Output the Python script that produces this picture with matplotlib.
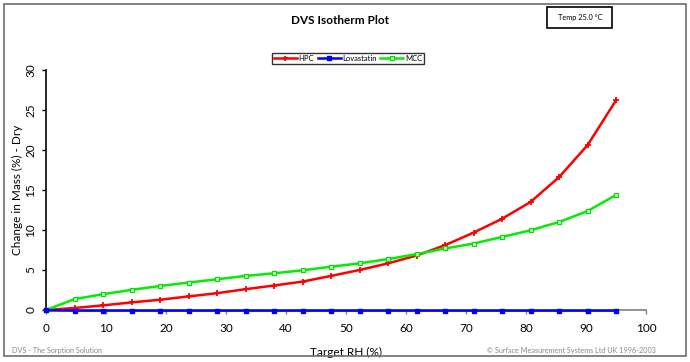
import matplotlib
matplotlib.use("Agg")
import matplotlib.pyplot as plt
from matplotlib.patches import Rectangle

plt.rcParams['font.family'] = ['Lato', 'DejaVu Sans']

rh = [0, 4.75, 9.5, 14.25, 19, 23.75, 28.5, 33.25, 38, 42.75, 47.5,
      52.25, 57, 61.75, 66.5, 71.25, 76, 80.75, 85.5, 90.25, 95]
hpc = [0, 0.25, 0.58, 0.95, 1.28, 1.7, 2.1, 2.6, 3.06, 3.55, 4.26,
       5.0, 5.83, 6.8, 8.1, 9.67, 11.4, 13.5, 16.6, 20.6, 26.2]
lova = [-0.05, -0.08, -0.08, -0.08, -0.08, -0.08, -0.08, -0.08, -0.08, -0.08, -0.08,
        -0.08, -0.08, -0.08, -0.08, -0.08, -0.08, -0.08, -0.08, -0.08, -0.08]
mcc = [0, 1.36, 1.98, 2.52, 3.0, 3.43, 3.84, 4.26, 4.59, 4.96, 5.41,
       5.83, 6.36, 6.98, 7.69, 8.3, 9.13, 9.96, 11.0, 12.36, 14.38]
series_names = ["HPC", "Lovastatin", "MCC"]
x_ticks = [0, 10, 20, 30, 40, 50, 60, 70, 80, 90, 100]
y_ticks = [0, 5, 10, 15, 20, 25, 30]

W, H = 690, 362
fig = plt.figure(figsize=(W / 100, H / 100), dpi=100)
fig.patch.set_facecolor('white')

# outer border
fig.add_artist(Rectangle((4 / W, 1 - 356 / H), 682 / W, 352 / H, transform=fig.transFigure,
                         fill=False, edgecolor='#6e6e6e', linewidth=1.2))

ax = fig.add_axes([46 / W, 1 - 310 / H, 600 / W, 240 / H])
l1, = ax.plot(rh, hpc, color='#ff0000', lw=1.8, marker='+', ms=4, mew=1.3,
              label=series_names[0], clip_on=False, zorder=3)
l2, = ax.plot(rh, lova, color='#0000ff', lw=1.8, marker='s', ms=3.2,
              label=series_names[1], clip_on=False, zorder=4)
l3, = ax.plot(rh, mcc, color='#00ee00', lw=1.8, marker='s', ms=3.2, mfc='#d8ffd8', mec='#00dd00',
              mew=0.9, label=series_names[2], clip_on=False, zorder=3)

ax.set_xlim(0, 100)
ax.set_ylim(0, 30)
ax.set_xticks(x_ticks)
ax.set_yticks(y_ticks)
for s in ['top', 'right']:
    ax.spines[s].set_visible(False)
ax.spines['left'].set_color('#000000')
ax.spines['bottom'].set_color('#808080')
ax.spines['left'].set_linewidth(1.2)
ax.spines['bottom'].set_linewidth(1.2)
ax.tick_params(axis='both', direction='out', length=3, width=1, labelsize=8.5, colors='#000000')
ax.tick_params(axis='x', color='#808080', pad=6)
ax.tick_params(axis='y', pad=8)
for lab in ax.get_yticklabels():
    lab.set_rotation(90)
    lab.set_rotation_mode('default')
    lab.set_va('center')
    lab.set_ha('center')
ax.set_xlabel("Target RH (%)", fontsize=8.5)
ax.set_ylabel("Change in Mass (%) - Dry", fontsize=8.5)
ax.yaxis.set_label_coords(-23 / 600, 0.5)
ax.xaxis.set_label_coords(0.5, -37 / 240)

fig.text(340 / W, 1 - 20 / H, "DVS Isotherm Plot", ha='center', va='center',
         fontsize=8.5, fontweight='bold')

# temperature box
fig.add_artist(Rectangle((547 / W, 1 - 28 / H), 65 / W, 21 / H, transform=fig.transFigure,
                         fill=False, edgecolor='black', linewidth=1.2))
fig.text(580 / W, 1 - 17.5 / H, "Temp 25.0 °C", ha='center', va='center', fontsize=5.3)

leg = fig.legend(handles=[l1, l2, l3], loc='center', bbox_to_anchor=(348 / W, 1 - 58.5 / H),
                 ncol=3, fontsize=5.5, frameon=True, fancybox=False, edgecolor='black',
                 handlelength=3, columnspacing=0.5, handletextpad=0.2, borderpad=0.3,
                 markerscale=0.9)
leg.get_frame().set_linewidth(1)

fig.text(12 / W, 1 - 351 / H, "DVS - The Sorption Solution", ha='left', va='center',
         fontsize=5.2, color='#888888')
fig.text(656 / W, 1 - 351 / H, "© Surface Measurement Systems Ltd UK 1996-2003", ha='right',
         va='center', fontsize=5.2, color='#888888')

fig.savefig("out.png", dpi=100, facecolor='white')
